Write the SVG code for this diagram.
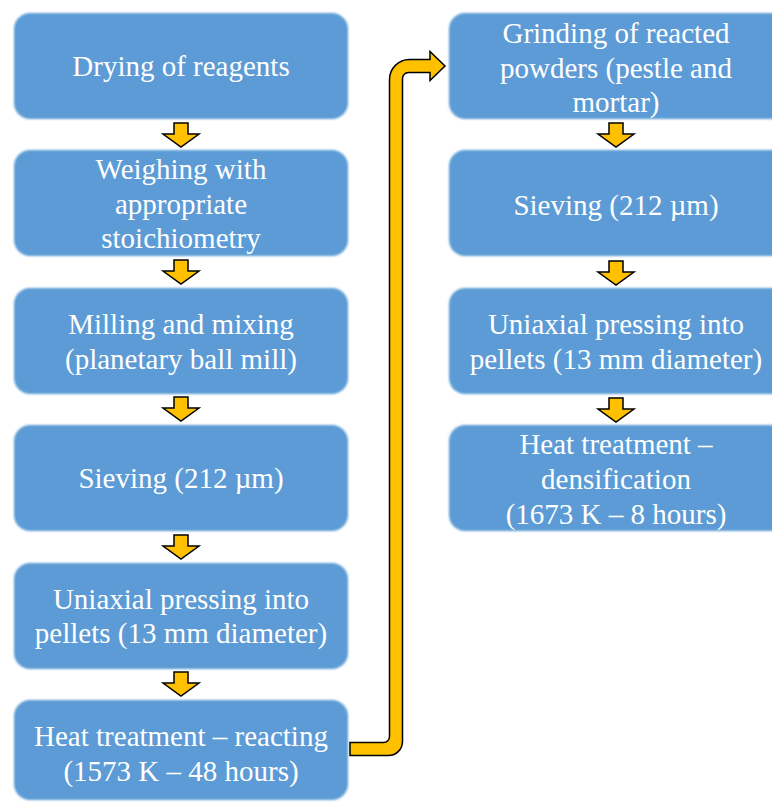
<svg xmlns="http://www.w3.org/2000/svg" width="772" height="802" viewBox="0 0 772 802">
<defs>
<style>
.box{fill:#5B9BD5;filter:url(#soft)}
.t{font-family:"Liberation Serif","Times New Roman",serif;font-size:29px;fill:#FFFFFF;text-anchor:middle}
.arr{fill:#FFC000;stroke:#000000;stroke-width:1.5;stroke-linejoin:miter}
</style>
<filter id="soft" x="-5%" y="-5%" width="110%" height="110%">
<feGaussianBlur stdDeviation="0.9"/>
</filter>
<path id="da" d="M -7,0 H 7 V 11 H 18 L 0,24 L -18,11 H -7 Z"/>
</defs>
<rect width="772" height="802" fill="#FFFFFF"/>

<g id="n1"><rect class="box" x="14" y="13" width="334" height="106" rx="16"/><text class="t" x="181" y="76">Drying of reagents</text></g>
<g id="n2"><rect class="box" x="14" y="150" width="334" height="106" rx="16"/><text class="t" x="181" y="179">Weighing with</text><text class="t" x="181" y="214">appropriate</text><text class="t" x="181" y="248">stoichiometry</text></g>
<g id="n3"><rect class="box" x="14" y="288" width="334" height="106" rx="16"/><text class="t" x="181" y="334">Milling and mixing</text><text class="t" x="181" y="369">(planetary ball mill)</text></g>
<g id="n4"><rect class="box" x="14" y="425" width="334" height="106" rx="16"/><text class="t" x="181" y="488">Sieving (212 µm)</text></g>
<g id="n5"><rect class="box" x="14" y="563" width="334" height="106" rx="16"/><text class="t" x="181" y="609">Uniaxial pressing into</text><text class="t" x="181" y="643">pellets (13 mm diameter)</text></g>
<g id="n6"><rect class="box" x="14" y="700" width="334" height="100" rx="16"/><text class="t" x="181" y="746">Heat treatment – reacting</text><text class="t" x="181" y="781">(1573 K – 48 hours)</text></g>

<g id="n7"><rect class="box" x="449" y="13" width="340" height="106" rx="16"/><text class="t" x="616" y="43">Grinding of reacted</text><text class="t" x="616" y="78">powders (pestle and</text><text class="t" x="616" y="112">mortar)</text></g>
<g id="n8"><rect class="box" x="449" y="150" width="340" height="106" rx="16"/><text class="t" x="616" y="215">Sieving (212 µm)</text></g>
<g id="n9"><rect class="box" x="449" y="288" width="340" height="106" rx="16"/><text class="t" x="616" y="334">Uniaxial pressing into</text><text class="t" x="616" y="369">pellets (13 mm diameter)</text></g>
<g id="n10"><rect class="box" x="449" y="425" width="340" height="106" rx="16"/><text class="t" x="616" y="454">Heat treatment –</text><text class="t" x="616" y="489">densification</text><text class="t" x="616" y="524">(1673 K – 8 hours)</text></g>

<g id="connectors">
<use href="#da" class="arr" x="181" y="123"/>
<use href="#da" class="arr" x="181" y="260"/>
<use href="#da" class="arr" x="181" y="397"/>
<use href="#da" class="arr" x="181" y="535"/>
<use href="#da" class="arr" x="181" y="672"/>
<use href="#da" class="arr" x="616" y="123"/>
<use href="#da" class="arr" x="616" y="261"/>
<use href="#da" class="arr" x="616" y="398"/>
<path class="arr" d="M 350,755.5 L 350,742.5 L 383.5,742.5 A 6 6 0 0 0 389.5,736.5 L 389.5,79.5 A 20 20 0 0 1 409.5,59.5 L 430,59.5 L 430,51.5 L 445,66 L 430,80.5 L 430,72.5 L 408.5,72.5 A 6 6 0 0 0 402.5,78.5 L 402.5,741.5 A 14 14 0 0 1 388.5,755.5 Z"/>
</g>
</svg>
